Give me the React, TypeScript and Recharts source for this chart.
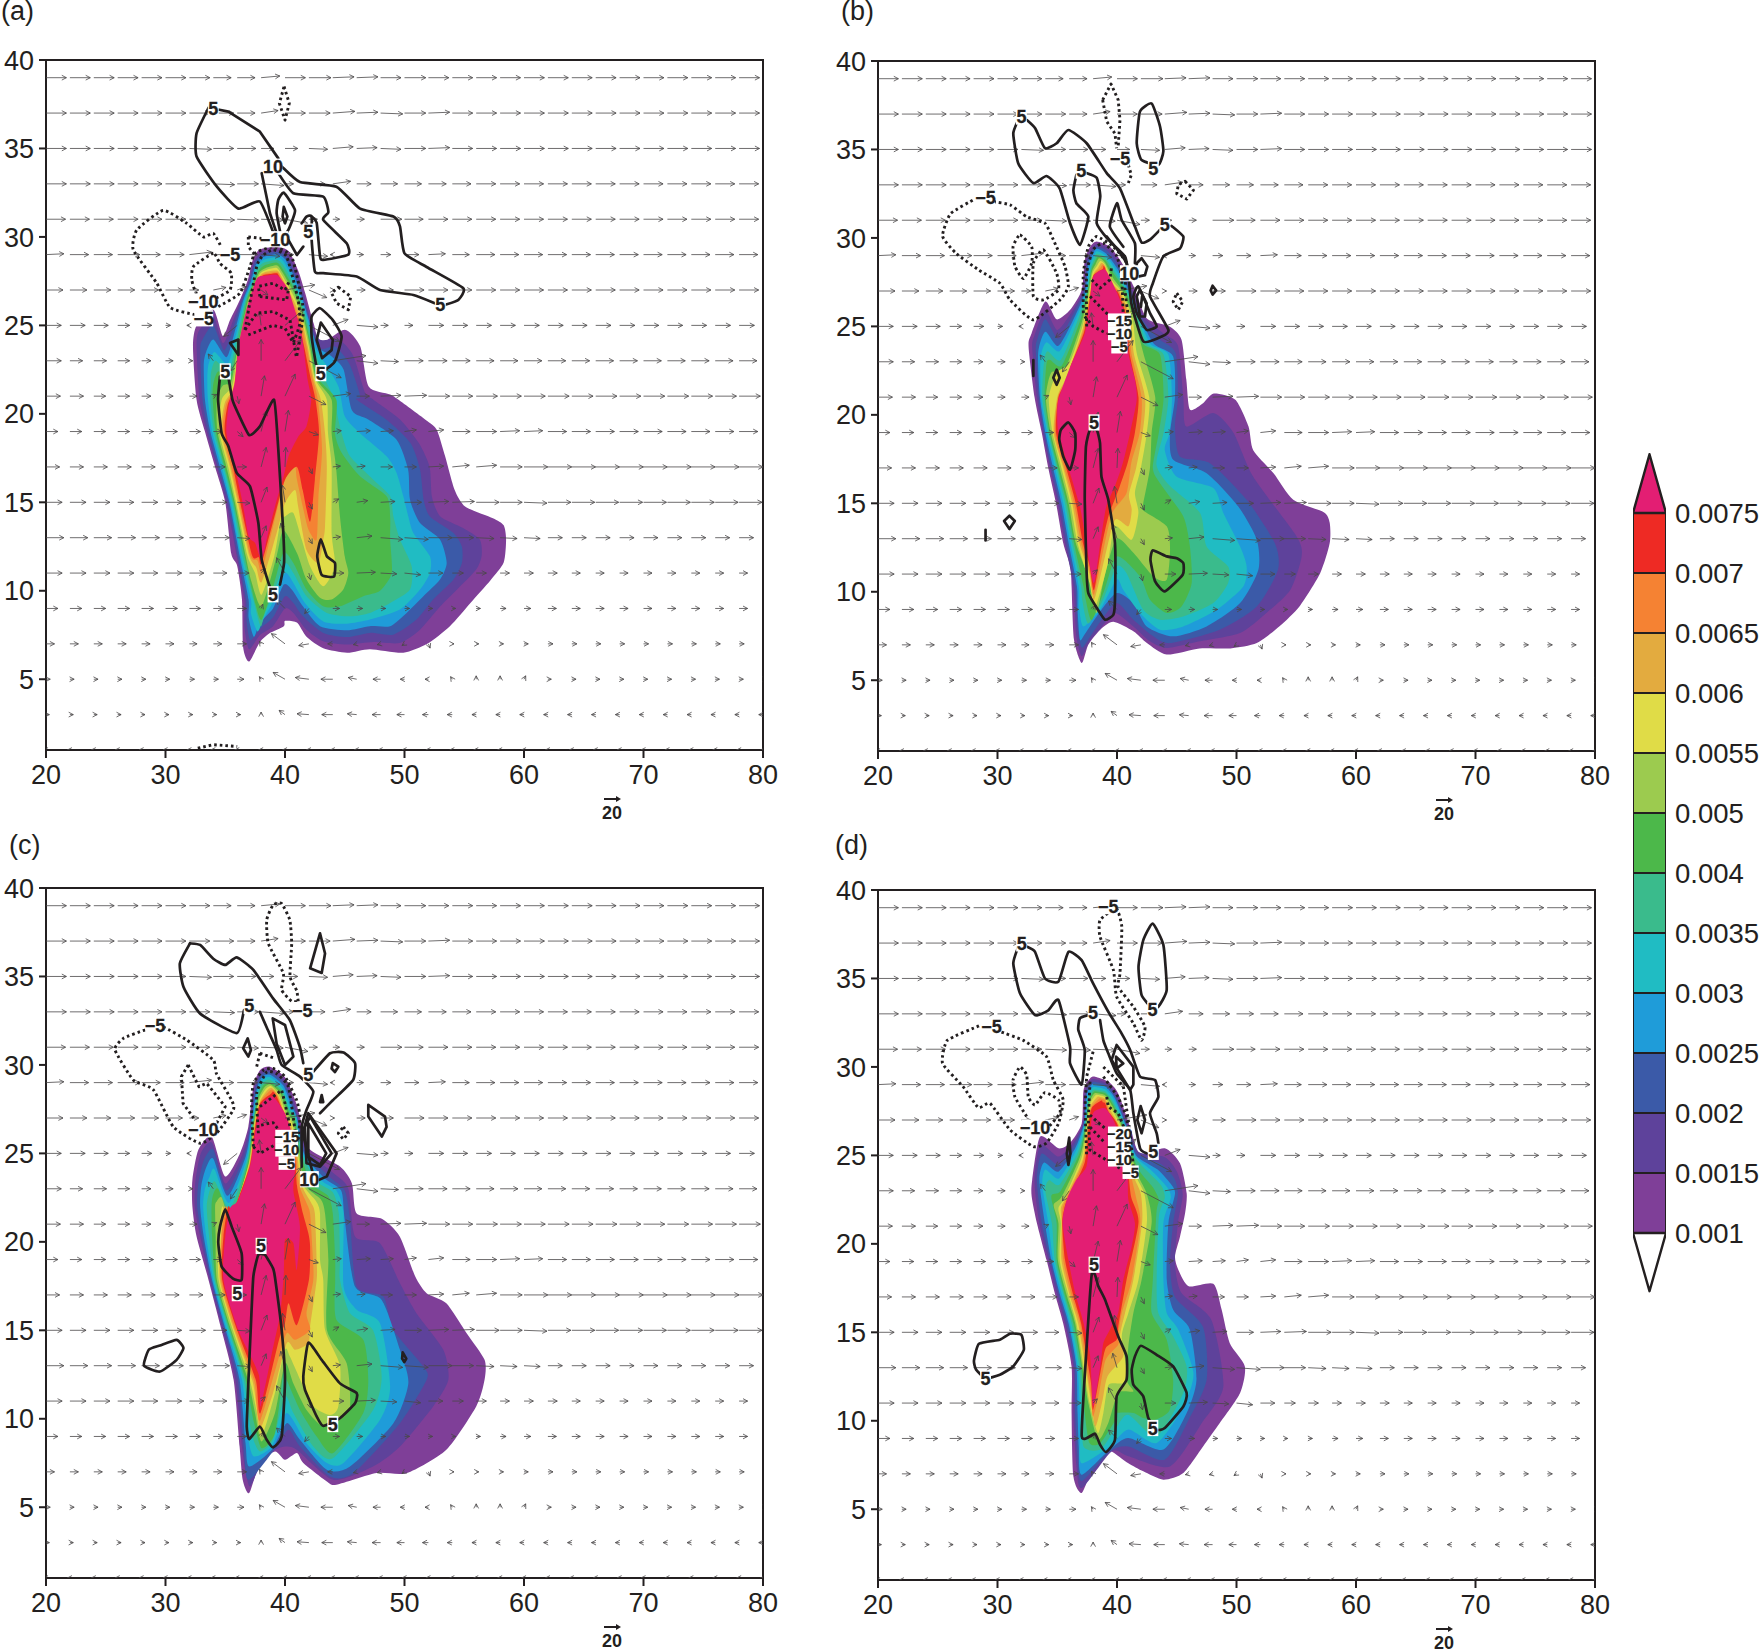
import React from "react";
import { ScatterChart, Scatter, XAxis, YAxis, ReferenceArea } from "recharts";

const INK = "#231f20";
const FONT = "'Liberation Sans', Arial, sans-serif";
const LABEL_FONT = "'Liberation Sans Narrow', 'Liberation Sans', sans-serif";

// shading levels, lowest first
const LEVEL_COLORS = ["#7f3f98", "#5e429b", "#3b5aa8", "#1f9cd9", "#20bcc3", "#3abb8c", "#4cb84a", "#9ccb4f", "#e0dc47", "#e3ab3f", "#f58233", "#ee2a24", "#e31e73"];
const LEVEL_LABELS = ["0.001", "0.0015", "0.002", "0.0025", "0.003", "0.0035", "0.004", "0.005", "0.0055", "0.006", "0.0065", "0.007", "0.0075"];

const X_TICKS = [20, 30, 40, 50, 60, 70, 80];
const Y_TICKS = [5, 10, 15, 20, 25, 30, 35, 40];

// wind grid
const WIND_LONS = [20, 22, 24, 26, 28, 30, 32, 34, 36, 38, 40, 42, 44, 46, 48, 50, 52, 54, 56, 58, 60, 62, 64, 66, 68, 70, 72, 74, 76, 78, 80];
const WIND_LATS = [39, 37, 35, 33, 31, 29, 27, 25, 23, 21, 19, 17, 15, 13, 11, 9, 7, 5, 3, 1];
const WIND_U = [
  [24,24,24,24,24,24,24,21,21,22,24,26,25,25,24,25,24,24,24,24,24,24,24,24,24,24,24,24,24,24,24],
  [24,24,24,24,24,24,24,24,21,20,24,25,26,25,26,25,25,24,24,24,24,24,24,24,24,24,24,24,24,24,24],
  [24,24,24,24,24,24,26,24,22,15,15,22,24,24,24,25,25,24,24,24,24,24,24,24,24,24,24,24,24,24,24],
  [24,24,24,24,24,24,24,25,25,27,10,19,21,17,20,20,21,22,23,23,23,23,23,23,23,23,23,23,23,23,23],
  [23,23,23,24,24,24,24,25,25,26,27,10,8,9,25,22,23,23,23,23,23,23,23,23,23,23,23,23,23,23,23],
  [21,22,22,26,22,22,26,24,24,22,10,22,-3,8,12,17,20,20,22,22,22,22,22,22,22,22,22,22,22,22,22],
  [20,20,20,20,20,20,11,15,11,8,35,21,2,10,15,23,23,23,23,23,23,23,23,23,23,23,23,23,23,23,23],
  [18,18,17,14,12,6,-3,0,-16,-2,22,36,18,25,9,10,18,18,18,18,18,18,18,18,18,18,18,18,18,18,18],
  [18,15,15,14,11,9,4,-6,-8,0,19,38,39,25,21,22,22,21,21,21,21,21,21,21,21,21,21,21,21,21,21],
  [17,16,14,14,11,9,9,4,2,4,12,20,21,15,24,26,25,24,25,25,25,25,25,25,25,25,25,25,25,25,25],
  [14,14,14,14,14,14,13,10,7,6,4,11,10,16,15,14,18,21,24,23,22,22,22,22,22,22,22,22,22,22,22],
  [16,16,16,16,16,16,16,14,11,6,1,4,9,10,14,14,18,20,24,26,28,28,28,28,28,28,28,28,28,28,28],
  [19,19,19,19,19,19,19,16,15,7,-3,4,7,13,17,20,24,26,27,26,27,27,27,27,27,27,27,27,27,27,27],
  [21,21,21,21,21,21,20,19,15,6,-5,4,9,18,26,28,28,25,21,20,19,17,17,17,17,17,17,17,17,17,17],
  [19,19,19,19,19,19,17,16,14,5,-10,2,13,22,19,19,17,13,12,11,11,11,10,10,10,10,10,10,10,10,10],
  [14,14,14,14,14,14,13,11,11,2,-10,-5,8,7,6,6,5,4,5,7,8,10,10,10,10,10,10,10,10,10,10],
  [10,10,10,10,10,10,9,10,11,-2,-16,-12,-6,-4,-4,-3,2,2,3,4,5,6,6,6,6,6,6,6,6,6,6],
  [5,5,5,5,5,5,6,6,8,-2,-14,-16,-14,-10,-9,-5,-4,-2,0,0,2,4,5,5,5,5,5,5,5,5,5],
  [4,4,4,4,4,4,4,4,4,0,-7,-14,-13,-11,-10,-9,-7,-6,-5,-5,-5,-5,-5,-5,-5,-5,-5,-5,-5,-5,-5],
  [-3,-3,-3,-3,-3,-3,-3,-3,-3,-3,-3,-3,-3,-3,-3,-3,-3,-3,-3,-3,-3,-3,-3,-3,-3,-3,-3,-3,-3,-3,-3],
];
const WIND_V = [
  [0,0,0,0,0,0,0,0,0,2,0,0,1,1,0,0,0,0,0,0,0,0,0,0,0,0,0,0,0,0,0],
  [0,0,0,0,0,0,0,0,0,3,0,0,2,1,-1,0,1,0,0,0,0,0,0,0,0,0,0,0,0,0,0],
  [0,0,0,0,0,0,-1,0,0,0,0,-1,2,1,-1,0,1,0,0,0,0,0,0,0,0,0,0,0,0,0,0],
  [0,0,0,0,0,0,0,-1,0,-2,0,0,3,0,0,0,0,0,0,0,0,0,0,0,0,0,0,0,0,0,0],
  [0,0,0,0,0,0,0,-1,-1,-1,-5,0,0,0,0,0,0,0,0,0,0,0,0,0,0,0,0,0,0,0,0],
  [1,0,0,0,0,0,3,0,0,-2,0,-2,0,0,0,0,1,0,0,0,0,0,0,0,0,0,0,0,0,0,0],
  [0,0,0,0,0,0,0,3,4,-6,6,-9,0,0,0,0,0,0,0,0,0,0,0,0,0,0,0,0,0,0,0],
  [0,0,0,0,0,0,0,0,-13,16,19,-19,7,-2,0,0,0,0,0,0,0,0,0,0,0,0,0,0,0,0,0],
  [0,0,0,0,0,0,0,8,-12,25,25,-20,6,-3,-1,0,0,0,0,0,0,0,0,0,0,0,0,0,0,0,0],
  [0,0,0,0,0,0,0,2,-9,24,26,-10,3,0,1,1,0,0,0,0,0,0,0,0,0,0,0,0,0,0,0],
  [0,0,0,0,0,0,0,0,-6,24,25,-4,1,1,1,2,2,0,0,1,1,0,0,0,0,0,0,0,0,0,0],
  [0,0,0,0,0,0,0,0,0,23,23,-8,1,1,0,0,1,2,2,0,0,0,0,0,0,0,0,0,0,0,0],
  [0,0,0,0,0,0,0,0,-1,18,20,-8,4,2,1,0,1,1,0,0,-1,0,0,0,0,0,0,0,0,0,0],
  [0,0,0,0,0,0,0,0,-1,14,17,-7,1,2,-2,-2,0,0,-1,-1,-1,0,0,0,0,0,0,0,0,0,0],
  [0,0,0,0,0,0,0,0,0,5,18,-8,0,1,-1,-2,0,0,0,0,0,0,0,0,0,0,0,0,0,0,0],
  [0,0,0,0,0,0,0,0,0,5,10,-6,0,0,0,0,0,0,0,0,0,0,0,0,0,0,0,0,0,0,0],
  [0,0,0,0,0,0,0,0,0,3,12,-2,0,-1,-1,-2,-5,0,0,0,0,0,0,0,0,0,0,0,0,0,0],
  [0,0,0,0,0,0,0,0,0,3,8,2,0,2,0,0,0,3,4,4,4,0,0,0,0,0,0,0,0,0,0],
  [0,0,0,0,0,0,0,0,0,3,5,1,0,1,0,0,0,0,0,0,0,0,0,0,0,0,0,0,0,0,0],
  [0,0,0,0,0,0,0,0,0,0,0,0,0,0,0,0,0,0,0,0,0,0,0,0,0,0,0,0,0,0,0],
];

// shaded contours of each panel as lon,lat pairs
const A_FILLS = [
  [39.3,29.45,40.3,29.2,41.1,28.1,41.7,26.8,42.4,25.1,43,24,45,24.75,46.3,23.8,47,21.55,48.8,21.1,49.5,20.8,51.9,19.6,52.7,19.1,53.4,17.6,54.2,15.7,55.1,14.75,57.4,14.1,58.3,13.7,58.5,12.9,58.3,11.6,57.2,10.6,55.5,9.3,53.8,8,51.9,7,49.9,6.5,47.1,6.7,45.2,6.5,43.2,6.75,41.8,7.4,41,8.2,40,8.3,39.9,8,38.7,7.6,37.9,7.1,37,6,36.5,6.8,36.4,9.5,36,11.4,35.5,12.1,35,15,34.15,17,33.3,19,32.6,20.8,32.3,23.8,32.6,25,34,25.9,34.8,24.4,35.4,25.3,36.2,26.4,36.9,27.6,37.3,28.7,37.9,29.3],
  [39.3,29.3,40.2,29.05,41,27.95,41.6,26.7,42.2,25.2,42.9,24.2,44.5,24.2,45.7,23.3,46.7,21.2,47.4,20.8,49.6,19.7,51.2,18.35,52.1,17,52.3,15.3,53,14.2,54.9,13.55,56.3,12.9,56.46,12,56,11.2,54.4,10.07,53,9.12,51.3,7.8,49.6,7.05,47.4,7.1,45.2,6.96,43.2,7.15,41.8,7.8,40.7,8.75,40,9,39,8,37.9,7.5,37,6.7,36.6,8,36.6,9.5,35.95,12,35.1,15,34.3,17,33.45,19,32.85,20.8,32.6,23.8,32.8,24.7,34,25.5,34.8,24,35.5,25,36.3,26.4,36.95,27.5,37.4,28.6,38,29.15],
  [39.3,29.15,40.1,28.9,40.9,27.8,41.5,26.6,42.1,25.2,42.9,23.7,44.2,23.8,45.4,22.8,46.3,21,46,20.8,48.5,19.67,50.5,18.35,51.3,16.85,51.6,15.15,52.13,14.2,54.1,13.27,54.8,12.5,54.8,11.57,54.1,10.63,52.4,9.5,51,8.37,49.07,7.52,47.1,7.62,45.2,7.39,43.2,7.62,41.5,8.56,40.7,9.31,40,9.69,39,8.5,38,7.9,37.1,7.2,36.8,8.2,36.75,9.5,36.05,12,35.25,15,34.4,17,33.6,19,33.1,20.8,32.9,23.6,33.1,24.2,34,25,34.9,23.6,35.6,24.7,36.4,26.4,37.05,27.5,37.45,28.5,38.1,29],
  [39.3,29,40,28.75,40.8,27.7,41.4,26.6,42,25.3,42.7,23.8,43.8,23.3,44.9,22.5,45.6,20.2,47,19.67,49.34,18.54,50.3,16.85,50.46,15.15,51.3,13.83,52.97,12.9,53.53,11.57,52.97,10.63,51.58,9.69,50.18,8.75,48.8,8,47.1,8,45.16,7.77,42.93,8,41.5,9.12,40.56,10.07,39.9,10.35,39,9,37.9,8.2,37.4,7.4,36.95,8.5,36.95,9.5,36.2,12,35.35,15,34.55,17,33.75,19,33.3,20.8,33.2,22.8,33.4,23.5,34,24.2,35.1,23.2,35.7,24.4,36.5,26.4,37.15,27.5,37.55,28.4,38.15,28.85],
  [39.3,28.85,39.9,28.6,40.7,27.6,41.3,26.6,41.9,25.3,42.5,23.8,43.4,22.8,44.5,21.5,45,19.86,46.28,18.9,48.5,17.6,49.34,16.66,49.9,15.34,50.32,14.2,50.74,13.27,52.13,11.95,52.13,11,51.3,10.07,49.62,8.94,47.1,8.37,45.16,8.14,43.2,8.27,41.67,9.31,40.7,10.44,40,11,39.1,9.5,38.2,8.4,37.7,7.7,37.15,8.7,37.15,9.5,36.3,12,35.45,15,34.7,17,33.9,19,33.55,20.8,33.5,22,33.6,22.8,34.1,23.5,35.2,22.8,35.8,24.2,36.6,26.4,37.2,27.4,37.6,28.3,38.2,28.7],
  [39.3,28.7,39.8,28.45,40.6,27.5,41.2,26.6,41.8,25.3,42.4,23.8,43.1,22.3,44,21,44.74,18.9,45.44,17.6,47.4,16.28,48.8,15.34,49.07,14.2,49.62,12.9,50.6,11.38,50.46,10.07,48.8,9.31,47.1,8.75,45.44,8.56,43.5,8.75,41.8,9.69,40.7,11,40,11.55,39.1,10,38.3,8.7,37.95,8,37.35,9.5,36.45,12,35.6,15,34.85,17,34.05,19,33.75,20.8,33.8,21.5,33.8,22.3,34.2,23,35.3,22.4,35.9,24,36.7,26.4,37.3,27.4,37.7,28.2,38.25,28.55],
  [39.3,28.55,39.7,28.3,40.5,27.4,41.1,26.6,41.7,25.3,42.2,23.8,42.8,22,44.3,20.8,44.18,18.9,44.74,17.8,46.28,16.47,48.5,15.34,48.8,14.2,48.8,12.9,48.93,11,47.95,10,46.55,9.69,44.6,9.12,43.2,9.12,41.8,10.07,40.7,11.57,39.86,12.14,39,10.2,38.05,8.37,37.55,9.2,36.6,12,35.7,15,34.95,17,34.2,19,33.95,20.8,34,21.7,34.4,22.4,35.4,22.1,36,23.8,36.8,26.4,37.35,27.4,37.8,28.1,38.3,28.4],
  [39.3,28.4,39.65,28.15,40.4,27.3,41,26.5,41.6,25.3,42.1,23.8,42.6,22,43.9,20.8,43.9,18.9,44.27,17,44.6,14.2,45,11.95,45.3,11,44.88,10.07,43.9,9.5,42.93,9.6,41.8,10.63,41,12.14,39.86,13.42,39.3,11.95,38.05,9.12,37.2,10.5,36.7,12,35.8,15,35.1,17,34.35,19,34.3,20.8,34.8,21.6,35.5,21.8,36,23.6,36.9,26.4,37.4,27.3,37.85,28,38.4,28.25],
  [39.3,28.25,39.6,28,40.3,27.2,40.9,26.4,41.5,25.3,42,23.8,42.5,22,43.5,20.8,43.6,18.9,43.9,17,43.9,13.27,44.18,11.38,43.2,10.25,42.1,11.38,41.4,12.9,40.7,14.4,40,14.2,39.64,14,39.1,11.95,38.05,9.78,37.5,11,36.85,12,35.9,15,35.25,17,34.5,19,34.7,20.8,35.6,21.6,36.1,23.6,37,26.4,37.5,27.3,37.95,27.95,38.5,28.15],
  [39.3,28.1,39.55,27.95,40.2,27.1,40.8,26.3,41.4,25.3,41.9,23.8,42.4,22,43,20.8,43.35,18.9,43.5,17,43.35,13.65,43.2,12.9,42.8,11.57,41.8,12.3,41.1,14.77,40.84,15.7,40,14.96,39.3,13.27,38.05,10.5,37.6,11.3,37,12,36.05,15,35.4,17,34.65,19,34.95,20.6,35.7,21.5,36.1,23.6,37.05,26.4,37.55,27.3,38,27.9,38.55,28.05],
  [39.3,28,39.5,27.9,40.15,27.05,40.7,26.2,41.25,25.3,41.8,23.8,42.3,22,42.75,20.8,43.1,18,42.8,15.3,42.65,12.9,42.1,13.27,41.8,13.83,41,16.28,40.84,17,40,16.28,39,13.64,38.05,11.1,37.7,11.7,37.1,12,36.15,15,35.5,17,34.8,19,35.05,20.5,35.75,21.5,36.1,23.7,37.1,26.4,37.6,27.3,38.05,27.85,38.6,27.95],
  [39.3,27.95,39.45,27.85,40.1,27,40.6,26.1,41.1,25.3,41.6,23.8,42.15,22,42.55,20.8,42.85,18.9,42.5,16.28,42.1,13.9,41.48,15.7,41,17,40,16.28,39.2,14.4,38.05,11.57,37.8,11.9,37.25,12,36.25,15,35.65,17,34.95,19,35.2,20.5,35.8,21.5,36.1,23.7,37.15,26.3,37.6,27.2,38.1,27.8,38.7,27.9],
  [39.3,27.85,39.8,27.5,40.3,27,40.9,25.7,41.4,24.5,41.9,21.9,42.2,20.8,41.8,19.3,41.1,18.7,40.3,17.6,39.9,16.5,39.3,15.1,38.6,13.3,38.05,11.76,37.5,12.7,36.95,13.1,36.4,15.15,35.8,17,35.1,18.9,35.3,20.5,35.8,21.8,36.1,23.8,36.7,25.7,37.6,27.6,38.3,27.8],
];
const B_FILLS = [
  [38.3,29.8,39.4,29.5,40.4,28.6,41.4,27.25,42.5,25.45,44.4,25,45.4,24.25,45.8,22,46.1,20.3,47.2,20.66,48.1,21.2,49.9,20.85,51,19.35,51.4,18,53.1,16.7,54.75,15.2,57.3,14.5,57.8,13.9,57.8,12.75,57,11.05,55.3,9.2,53.6,8.05,51.7,7.1,49.5,6.8,46.9,6.8,44.15,6.45,42.5,7.1,41.4,7.75,39.7,8.3,38.6,7.85,37.6,7,37.05,5.97,36.4,7.3,36.2,10.3,36.1,11.4,35.5,12.75,34.9,15,34.25,17,33.7,19,33.1,21,32.6,23.85,32.85,24.6,34,26.4,34.95,25.4,36.1,25.95,37.05,27.05,37.3,28.75,37.75,29.5],
  [38.3,29.65,39.3,29.4,40.3,28.5,41.2,27.2,42.3,25.5,43.9,24.6,45.1,23.9,45.55,21,45.8,19.34,48.06,20.1,49.73,19,51.4,16.5,55.03,13.13,55.45,12,54.5,10.1,52.5,8.8,50.3,7.67,46.95,7.2,44.16,6.82,42.76,7.2,41.37,8.04,39.83,8.8,38.7,8,37.7,7.2,37.05,6.35,36.6,7.5,36.35,10.3,35.65,12.75,35.05,15,34.4,17,33.8,19,33.3,21,32.9,23.8,33.1,24.5,34,25.9,35,24.8,36.2,25.8,37.15,27,37.4,28.7,37.85,29.4],
  [38.3,29.5,39.2,29.25,40.2,28.35,41.1,27.1,42.1,25.4,43.5,24.3,44.9,23.5,45.1,21,44.85,19.34,45.27,17.65,47.78,17.27,50.85,15.2,53.2,12.75,53.47,11.25,51.7,9.17,48.6,7.86,44.44,7.1,43.04,7.48,41.37,8.42,39.97,9.36,38.6,8.3,37.6,7.3,37.05,6.85,36.7,8,36.5,10.3,35.8,12.75,35.2,15,34.5,17,33.9,19,33.45,21,33.2,23.7,33.35,24.3,34,25.4,35.1,24.3,36.35,25.7,37.25,27,37.5,28.6,37.9,29.25],
  [38.3,29.4,39.1,29.1,40.1,28.2,41,27,42,25.4,43.1,24,44.7,23.3,44.85,21,44.44,18.97,44.7,17.46,47.5,16.7,50.15,14.82,51.7,12.94,51.83,11.25,50.3,9.36,47.5,8.04,44.7,7.48,42.48,8.04,41.37,9.36,39.97,9.93,38.5,8.8,37.3,7.6,36.9,7.3,36.7,9,36.65,10.3,35.95,12.75,35.35,15,34.65,17,34,19,33.55,21,33.4,23.5,34,24.7,35.1,23.9,36.5,25.6,37.35,27,37.6,28.5,38,29.1],
  [38.3,29.25,39.05,29,40,28.1,40.9,27,41.9,25.4,42.8,24,44.3,23.4,44.6,21,44.4,19,44,18,45,16.5,48.06,15.86,48.9,14.45,50.3,12.56,50.85,11.43,50.57,10.3,48.34,8.98,45.55,8.04,43.6,7.86,41.92,8.8,40.53,10.1,39.97,10.68,38.6,9,37.2,8.04,36.85,9,36.8,10.3,36.1,12.75,35.5,15,34.8,17,34.15,19,33.65,21,33.6,23.2,34.1,24.1,35.2,23.6,36.6,25.5,37.45,27,37.7,28.4,38.05,28.95],
  [38.3,29.1,39,28.9,39.9,28,40.8,27,41.8,25.4,42.5,24,43.9,23.4,44.3,21,43.9,19,43.3,17.2,44.4,16,46.95,14.45,47.5,12.56,49.3,11.43,49.3,10.5,48.06,9.36,45.55,8.6,43.6,8.42,42.2,8.98,40.8,11.05,39.97,11.43,38.8,9.5,37.6,8.2,37.1,9.5,37,10.3,36.25,12.75,35.65,15,34.95,17,34.25,19,33.75,21,33.9,23,34.2,23.6,35.3,23.1,36.75,25.4,37.5,27,37.8,28.3,38.1,28.8],
  [38.4,28.95,39,28.75,39.8,27.9,40.7,27,41.6,25.4,42.2,24,43.6,23.4,43.9,21,43.5,19,43,17,43.6,16.14,45.55,14.26,46.1,12.56,46.25,10.5,45.4,9.17,44.16,8.8,42.76,9.55,41.92,10.87,40,12,38.9,10,37.88,8.4,37.4,9.5,37.2,10.3,36.4,12.75,35.8,15,35.05,17,34.35,19,33.95,21,34.1,22.9,34.4,23.1,35.4,22.8,36.9,25.3,37.55,27,37.85,28.2,38.15,28.65],
  [38.5,28.85,39,28.6,39.7,27.7,40.55,26.9,41.45,25.4,42.2,23.5,43.2,21,42.9,19,42.76,17,42.2,15,42.2,14.6,44.16,13.7,44.44,12.38,44.16,10.68,43.04,10.87,41.37,12.2,39.97,13,39,11,38.3,8.8,37.9,10.3,36.55,12.75,35.95,15,35.2,17,34.45,19,34.05,21,34.5,22.4,35.6,22.5,37,25.1,37.6,26.9,37.9,28.1,38.2,28.5],
  [38.6,28.7,39,28.5,39.6,27.6,40.45,26.9,41.3,25.4,41.65,23.5,42.7,21,42.5,19,42,17,41.5,15.6,41.79,14.45,41.23,12.94,39.83,13.7,39.2,11.5,38.16,9.1,37.7,10.5,36.7,12.75,36.1,15,35.35,17,34.6,19,34.3,21,35,22.4,36,22.9,37.1,25,37.65,26.8,37.95,28,38.3,28.4],
  [38.7,28.6,39,28.4,39.5,27.5,40.3,26.9,41.15,25.4,41.4,23.5,42.35,21,42.15,19,41.6,17,41,15.5,41.23,14.64,40.95,13.7,39.83,14.07,39,12,38.08,9.55,37.7,11,36.85,12.75,36.25,15,35.5,17,34.7,19,35,21,35.6,21.9,36.1,22.7,37.15,24.9,37.7,26.7,38,27.9,38.4,28.3],
  [38.8,28.5,39,28.35,39.4,27.5,40.2,26.9,41,25.4,41.2,23.5,42.06,21,41.9,19,41.2,17.3,40.8,15.58,39.6,14.45,38.9,12.5,38.08,9.85,37.7,11.2,37,12.75,36.4,15,35.6,17,34.8,19,35.05,21,35.7,21.9,36.1,22.7,37.2,24.8,37.7,26.7,38.05,27.9,38.6,28.3],
  [38.85,28.4,39,28.3,39.3,27.4,40.1,26.9,40.85,25.4,41.05,23.5,41.8,21,41.5,19,40.9,17.3,40.2,15.9,39.3,14.3,38.7,12.5,38.08,10.1,37.7,11.5,37.15,12.75,36.55,15,35.75,17,34.9,19,35.1,21,35.8,21.9,36.1,22.7,37.25,24.7,37.75,26.6,38,27.85,38.8,28.25],
  [39,28.2,40,26.9,40.7,25.55,40.95,23.5,41.5,22,41.65,20.85,41.1,19,40.5,17.3,39.85,16,39.1,14.8,38.6,12.75,38.05,10.5,37.3,13.3,36.9,14.8,35.9,17.1,35.1,19,35,19.9,35.1,20.85,36.1,22.75,37.3,24.6,37.75,26.5,38,27.8],
];
const C_FILLS = [
  [38.75,29.9,40,29.3,40.85,28,41.25,27.08,41.95,25.3,44.6,24.26,45.6,23.3,46,21.6,48.1,21.3,49.6,20.3,50.9,18.04,51.85,17.1,53.5,16.53,55.2,14.84,56.7,13.33,56.7,12.2,56,10.7,53.5,8.25,50.2,6.93,47.67,6.93,44.3,6.27,43.5,6.46,41.53,7.5,41,8.06,40,7.68,39.16,8.15,37.9,7.5,37,5.8,36.46,6.55,36.2,8.43,35.7,12.2,34.7,15,33.6,17.85,32.6,20.3,32.25,22,32.25,23.5,32.75,25.2,33.86,25.95,34.98,23.7,36.23,25,36.93,26.5,37.35,28.77,37.9,29.7],
  [38.75,29.75,39.95,29.15,40.75,27.9,41.15,27,41.8,25.2,44.2,23.8,45.3,23,45.86,20.3,47.95,19.92,49.62,17.66,51,15.97,53.25,13.9,53.67,12.2,52.4,10.7,49.62,8.43,47.37,7.3,44.04,6.55,40.98,8.25,40,8.43,38.9,8.15,37.9,7.3,37.07,6.17,36.7,7,36.4,8.43,35.85,12.2,34.8,15,33.7,17.85,32.9,20.3,32.45,22,32.5,23.4,32.95,25,33.9,25.6,35,23.3,36.4,24.9,37,26.5,37.45,28.7,37.95,29.6],
  [38.75,29.6,39.9,29,40.65,27.8,41.05,27,41.7,25.1,43.7,23.7,45,22.9,45.44,21.24,46,17.47,48.23,16.9,49.07,15.03,51.58,12.95,51.85,12.2,49.62,9.75,45.72,6.93,43.77,6.74,41.25,8.43,40.28,9.38,38.9,8.06,36.93,6.55,36.55,8.43,36.05,12.2,34.95,15,33.8,17.85,33.05,20.3,32.65,22,32.75,23.3,33.2,24.6,34,25.2,35.1,22.9,36.55,24.8,37.1,26.5,37.5,28.6,38,29.45],
  [38.75,29.45,39.85,28.85,40.55,27.7,41,27,41.6,25,43.3,23.6,44.7,22.9,45,21.24,45.86,17.47,48.09,16.72,49.62,13.9,50.32,12,49.07,9.75,45.44,7.3,43.5,7.12,41.25,8.81,40.14,9.75,38.9,8.25,37,7.3,36.7,8.6,36.2,12.2,35.05,15,33.9,17.85,33.2,20.3,32.9,22,33,23.2,33.4,24.2,34,24.7,35.2,22.6,36.7,24.8,37.15,26.5,37.6,28.5,38.05,29.3],
  [38.75,29.3,39.8,28.7,40.45,27.6,40.95,27,41.5,25,43,23.5,44.3,22.9,44.9,21.6,44.9,17.47,46,16.16,47.95,15.4,48.8,11.82,47.95,9.94,44.9,7.5,43.5,7.5,41.8,8.62,40.14,10.32,38.9,8.43,37.4,7.87,36.9,9,36.4,12.2,35.15,15,34,17.85,33.4,20.3,33.15,22,33.3,23,33.7,23.7,34.1,24.1,35.3,22.2,36.8,24.7,37.2,26.5,37.65,28.4,38.1,29.15],
  [38.75,29.15,39.75,28.6,40.35,27.5,40.9,27,41.4,25,42.7,23.4,44,22.8,44.5,21.6,44.6,19,44.6,17.85,45.44,15.97,47.37,15,48.09,12.39,47.37,10.5,44,7.77,42.37,8.43,40.7,10.32,40,11.26,39,8.81,37.9,8.15,37.2,9.2,36.55,12.2,35.3,15,34.1,17.85,33.65,20.3,33.45,22,33.7,22.9,34.15,23.4,35.4,21.9,36.85,24.6,37.25,26.5,37.7,28.3,38.15,29],
  [38.75,29,39.7,28.5,40.3,27.4,40.8,26.9,41.3,25,42.2,23.3,43.6,22.6,44,21.6,44.2,19,44.2,17.85,44.3,15.6,46.55,14.46,46.97,12.2,46.55,10.32,44.04,8.06,42.65,9,41.25,10.5,40.14,12.2,39.86,12.58,39.16,9.19,38.05,8.34,37.4,9.8,36.7,12.2,35.4,15,34.2,17.85,33.9,20.3,33.85,22,34,22.7,34.4,23,35.5,21.5,36.9,24.5,37.3,26.5,37.75,28.2,38.2,28.85],
  [38.8,28.9,39.6,28.4,40.2,27.3,40.7,26.8,41.2,25,41.7,23.2,43,22.4,43.35,21.6,43.63,19,43.5,15.03,45.16,13.14,45.44,10.7,44.6,9.94,43.2,9.56,41.8,10.5,40.7,12,40,13.14,39.16,10.32,38.05,8.72,37.5,10.3,36.9,12.2,35.5,15,34.3,17.85,34.2,20.3,34.15,22,34.3,22.3,34.7,22.5,35.5,21.3,36.95,24.4,37.35,26.5,37.8,28.1,38.3,28.75],
  [38.85,28.8,39.5,28.3,40.1,27.2,40.6,26.7,41.1,25,41.55,23.2,42.6,22.3,42.93,21.6,42.93,19,43.2,17.85,43.35,15.03,44.6,13,44.46,10.7,43.77,10.22,42.37,10.7,41.53,11.82,40.42,13.5,40,13.9,39.16,11.45,38.05,9,37.6,10.5,37.05,12.2,35.65,15,34.45,17.85,34.45,20.3,34.75,22,35.45,21.2,36.98,24.4,37.4,26.5,37.85,28,38.4,28.65],
  [38.9,28.7,39.45,28.25,40.05,27.1,40.5,26.6,41,25,41.4,23.2,42.2,22.2,42.5,21.6,42.65,19,42.65,17.85,42.1,15.2,41.95,14.27,40.84,13.9,40.14,14.27,39,11.45,37.95,9.47,37.6,10.8,37.25,12.2,35.75,15,34.55,17.85,34.65,20.3,34.9,22,35.5,21.4,37,24.35,37.42,26.5,37.88,27.9,38.5,28.55],
  [38.95,28.6,39.4,28.2,40,27.05,40.4,26.5,40.9,25,41.2,23.2,41.8,22.2,42.1,21.6,42.3,19.5,42.37,17.85,41.8,15.97,42.1,15.03,40.84,14.46,40.14,14.84,39.5,13.5,37.95,9.94,37.6,11,37.4,12.2,35.85,15,34.65,17.85,34.7,20.3,35.05,22,35.6,21.6,37.03,24.3,37.45,26.4,37.9,27.85,38.6,28.45],
  [39,28.5,39.35,28.15,40,27.1,40.3,26.4,40.8,25,41,23.2,41.2,22.5,41.5,21.6,41.95,20.5,42.1,19.73,42,17.85,41,15.3,40.3,16.53,40,15.4,39.5,14.46,37.95,10.32,37.55,12.2,36,15,34.75,17.85,34.85,20.3,35.25,22,35.7,21.8,37.05,24.3,37.47,26.3,37.9,27.8,38.8,28.35],
  [39,28.2,40,27.27,40.56,26.1,40.84,24.25,40.7,22.9,41.25,20.86,40.98,18.4,40.7,19.92,40,20.1,39.9,18.2,39.6,15.97,38.9,13.7,37.95,10.7,37.8,12.5,36.1,15,34.85,17.85,35,20.3,35.4,21.9,36.1,22.37,37.07,24.25,37.5,26.14,37.9,27.6,38.3,28],
];
const D_FILLS = [
  [38.16,29.45,39.27,29.17,40.1,28.5,41.1,26.6,41.9,25.1,44,25.4,45.27,24.55,45.83,22.86,45.7,21.74,45.27,20.4,44.85,19.3,45.13,18.54,46,17.6,48.06,17.74,48.76,16.27,49.43,14.4,50.7,13.07,50.3,11.57,48.6,9.87,47.2,8.55,45.55,7.05,43.88,6.67,42.2,7.14,40.95,7.6,39.55,8.27,39,8.27,38,7.42,37.05,5.92,36.35,6.86,36.2,10.44,36.2,13.07,35.5,15.5,34.8,17.2,34.1,19.1,33.3,21.17,32.86,22.68,32.9,23.6,33.56,26.06,35.1,25.4,36.07,25.7,37.05,26.8,37.2,28.7,37.74,29.35],
  [38.2,29.3,39.2,29.05,40,28.4,41,26.6,41.8,25.2,44,24.9,45,24.1,45.5,22.8,45.1,21.17,44.85,18.9,45.4,17.22,47.9,15.7,48.9,11.94,47.1,9.87,44.44,7.42,40.95,8,39.55,8.27,37.05,6.2,36.6,7.5,36.35,10.44,36.35,13.07,35.65,15.5,34.95,17.2,34.25,19.1,33.5,21.17,33.1,23.6,33.6,25.6,35.1,24.93,36.2,25.6,37.15,26.8,37.3,28.6,37.8,29.25],
  [38.25,29.15,39.15,28.95,39.9,28.3,40.9,26.6,41.7,25.1,43.7,24.5,44.8,23.7,45.1,22.8,44.7,21.17,44.44,18.9,44.85,17,47.2,15.3,47.5,12.32,46,10.06,43.99,7.8,40.95,8.55,39.4,8.27,37.05,6.6,36.7,8,36.5,10.44,36.45,13.07,35.8,15.5,35.1,17.2,34.4,19.1,33.7,21.17,33.3,23.6,33.7,25.1,35.1,24.46,36.35,25.5,37.2,26.8,37.4,28.5,37.85,29.1],
  [38.3,29,39.1,28.85,39.85,28.2,40.8,26.6,41.6,25,43.4,24.2,44.6,23.3,44.85,22.8,44.3,21.17,44.16,18,44.7,16.27,46.1,15.15,46.65,12.32,45.83,10.44,43.88,8.37,40.95,9.03,39.4,8.37,37.05,6.95,36.8,8.5,36.7,10.44,36.6,13.07,35.95,15.5,35.2,17.2,34.5,19.1,33.97,21.17,33.5,23.6,33.9,24.6,35.1,24.08,36.5,25.4,37.25,26.8,37.45,28.4,37.9,29],
  [38.35,28.85,39.1,28.7,39.8,28.1,40.75,26.6,41.5,25,42.8,24.2,44.2,23.2,44.5,22.6,43.88,21.17,43.88,18,44.16,16.09,45.13,15.15,46.4,12.7,45.55,10.81,43.32,8.74,40.95,9.5,39.4,8.55,37.05,7.6,36.9,9,36.9,10.44,36.7,13.07,36.05,15.5,35.35,17.2,34.65,19.1,34.25,21.17,33.75,23.3,34,24.2,35.15,23.7,36.6,25.3,37.3,26.8,37.55,28.3,37.95,28.85],
  [38.4,28.7,39.05,28.6,39.7,28,40.65,26.6,41.4,25,42.4,24.2,43.7,23.3,44,22.6,43.5,21.5,43.32,18,43.46,16.09,44.7,14.77,45.83,13.07,45.55,11.57,43.32,9.12,40.95,10.34,40,9.68,38.6,8.37,37.2,8.55,37.1,10.44,36.85,13.07,36.2,15.5,35.5,17.2,34.8,19.1,34.55,21.17,34,23,34.3,23.6,35.2,23.35,36.75,25.2,37.35,26.8,37.6,28.2,38,28.7],
  [38.45,28.6,39.05,28.5,39.65,27.9,40.55,26.6,41.3,25,42,24,43,23.2,43.5,22.5,43.3,21.74,43,17.97,42.9,16.09,44.16,14.58,44.7,12.3,44.4,10.6,43.2,10.06,42.2,10.15,41.37,10.44,39.97,10.44,39.83,10,38.6,8.74,37.7,8.74,37.3,10.44,37,13.07,36.35,15.5,35.6,17.2,34.95,19.1,34.95,21.17,34.5,22.7,35.3,23,36.85,25.1,37.4,26.8,37.65,28.1,38.05,28.6],
  [38.5,28.5,39,28.4,39.6,27.8,40.45,26.6,41.2,25,41.8,23.8,42.5,22.8,42.9,21.2,42.06,17.97,41.37,16.09,40.95,14.2,40.8,12.32,41.37,11.66,40.1,11.57,39.27,9.87,38.4,8.93,37.6,11,37.1,13.07,36.5,15.5,35.75,17.2,35.05,19.1,35.1,21.17,34.7,22.2,35.4,22.7,36.95,25,37.45,26.8,37.7,28,38.1,28.5],
  [38.55,28.4,39,28.3,39.5,27.7,40.35,26.6,41.1,25,41.6,23.8,42.3,22.8,42.5,21.2,41.8,17.97,40.95,16.09,40.4,14.77,40.8,12.88,40.53,12.13,39.3,12.03,38.86,10.44,38.4,9.31,37.7,11,37.2,13.07,36.6,15.5,35.9,17.2,35.2,19.1,35.3,21.17,35.1,22,35.6,22.6,37.05,24.9,37.5,26.8,37.75,27.9,38.2,28.4],
  [38.6,28.3,39,28.2,39.4,27.6,40.25,26.6,41,25,41.4,23.8,42,22.8,42.1,21.2,41.37,17.97,40.67,16.09,40.25,14.77,40.53,13.64,39.2,12.5,38.8,11.19,38.2,9.68,37.8,11.2,37.35,13.07,36.75,15.5,36,17.2,35.35,19.1,35.37,21.17,35.3,22,35.7,22.6,37.15,24.8,37.55,26.8,37.8,27.8,38.35,28.3],
  [38.7,28.2,39,28.1,39.35,27.5,40.15,26.6,40.9,25,41.2,23.8,41.6,22.6,41.95,21.2,41.23,17.97,40.4,16.09,40.1,14.77,40.1,14.3,39.05,13.45,38.5,11.57,38,10.25,37.8,11.5,37.45,13.07,36.9,15.5,36.15,17.2,35.5,19.1,35.4,21.17,35.45,22,35.8,22.6,37.2,24.7,37.6,26.8,37.85,27.7,38.5,28.2],
  [38.8,28,39,27.95,39.3,27.45,40,26.8,40.8,25,41,23.7,41.2,22.6,41.8,21.2,40.8,17.97,40.1,15.3,39.97,14.58,39.05,14.1,38.6,12.7,38,10.62,37.85,12,37.6,13.07,37,15.5,36.3,17.2,35.65,19.1,35.42,21.17,35.6,22,35.9,22.6,37.3,24.6,37.65,26.8,37.9,27.7,38.7,28.1],
  [39,27.66,39.83,26.8,40.67,25.1,40.9,23.6,40.95,22.49,41.5,21.17,41.23,19.85,40.53,17.97,40.1,16.09,39.4,15.15,38.86,14.39,38.6,13.07,38,10.81,37.75,13.64,37.2,15.52,36.5,17.22,35.93,19.1,35.45,21.17,35.8,22.49,36.6,23.62,37.46,24.4,37.74,26.25,38,27.4],
];

// rain-rate contours: closed loops and open lines, solid and dotted
const A_LOOPS = [
  [42.23,25.5,42.93,25.97,44,25.3,44.74,24.37,44.18,22.96,43.35,22.5,42.65,22.67,42.23,24.37],
  [43,25.16,44,24.18,43.9,23.6,43.1,23.15,42.65,24.18],
  [35.4,24,36.1,24.2,36.1,23.33],
  [39.3,31.34,39.44,32.1,39.9,32.5,40.84,31.5,40.28,30.4,39.72,30],
  [39.9,31.7,40.2,31.15,40,30.77,39.8,31.15],
  [43,12.9,42.7,11.95,43.07,10.9,44.1,10.8,44.18,11.57,43.5,11.95],
];
const A_LINES = [
  [34.4,37.2,35.26,37.08,37.9,35.95,39.44,34.44],
  [39.7,34,41.25,33.1,44.3,32.84,46.28,31.6,49.07,31.15,49.62,30.6,50,29.07,51.85,28.3,54.92,27.1,54.5,26.44,53.4,26.16],
  [52.55,26.25,50.74,26.72,47.95,27,46,27.76,43.2,27.95,42.5,28.04,42.23,29.83,42.23,31.15,41.8,31.15,41.4,30.77],
  [33.6,37.3,32.6,35.86,32.6,34.54,34.3,32.84,36.1,31.6,37.9,32,39.16,30],
  [38.05,33.6,38.74,31.34,39.44,29.92],
  [39.44,33.6,40.7,32.47,43.2,32.28,43.63,31.4,43.2,30.96,45.16,29.64,45.3,29,43.2,28.7,42.93,28.9,42.65,30.8,42.23,31.15],
  [41.53,29.45,41,28.98,40.28,29.83],
  [34.56,22.1,34.4,20.8,34.7,18.9,35.26,18.17,35.96,16.66,37.07,15.9,37.77,13.83,38.05,11.76,38.75,10.16],
  [39.58,10.35,39.92,11.57,39.86,13.27,39.44,17.98,39.08,20.8,37.9,19.3,37,18.8,36,20.14,35.6,20.8,35.26,22.1],
];
const A_DOT_LOOPS = [
  [39.92,38.5,40.36,37.55,40,36.6,39.53,37.55],
  [44.46,27.16,45.5,26.63,45.3,25.88,44.32,26.25,43.9,26.82],
  [34,29.08,32.33,28.32,32.2,27.57,32.6,26.8,34,26.5,35.4,27,35.5,27.95,34.56,28.5],
];
const A_DOTS = [
  [32.47,25.6,30.4,26,29.26,27.4,27.3,29.27,27.6,30.4,29.8,31.5,31.77,30.77,33.17,30,34,30.2,34.7,29.4],
  [34.42,26.06,36.23,26.82,37.07,28.32,37.5,29.08,39,29.45,40.56,28.89,41.53,25.88,40.98,23.24],
  [36.65,24.75,37.63,28.32,38.2,28.98,39,29.27,40.14,28.89,41.1,26.44,41.25,25.12,40.7,24],
  [36.65,24.75,37.63,25.69,39,25.78,40.42,25.3,40.98,23.1],
  [36.93,24.46,39,25,40,24.84,40.7,24],
  [37.9,26.63,37.77,27.2,39,27.38,40,27,40.42,27.57],
  [37.9,26.63,40.14,26.44,40.28,27],
  [36.93,30,36.93,29.45,37.5,28.98],
  [36.93,30,38.05,29.92],
  [32.7,1.1,34,1.3,36,1.2],
];
const A_TAGS = [["5",34,37.27],["10",39,33.97],["5",41.95,30.3],["−10",39.16,29.87],["−5",35.4,29],["−10",33.17,26.35],["−5",33.2,25.4],["5",35,22.4],["5",43,22.3],["5",39,9.8],["5",53,26.16]];

const B_LOOPS = [
  [42.9,37.6,43.6,36.3,43.88,34.9,43.46,34.13,42.06,34.4,41.65,35.35,41.92,37.14],
  [42.06,28.85,42.54,28.38,42.34,27.9,41.65,27.8,41.65,28.57],
  [41.8,27.25,42.76,25.75,43.32,25,42.48,24.8,41.65,25.75,41.37,26.7],
  [41.92,27.06,42.48,26.3,42.34,25.56,41.92,25.56,41.65,26.7],
  [34.95,22.55,35.2,22.1,34.95,21.7,34.67,22.1],
  [48,27.3,48.3,27.03,48,26.8,47.84,27.03],
  [31,14.3,31.45,14,31,13.55,30.55,14],
  [35.93,19.57,36.5,18.97,36.5,18,36.07,16.9,35.5,17.65,35.17,18.6,35.3,19.15],
  [37.74,19.15,37.4,18.2,37.3,15.2,37.46,11.05,37.6,9.93,38.3,9.1,39,8.42,39.7,8.7,39.83,9.55,39.83,12.75,39.27,15.2,38.7,16.5,38.58,18.4,38.3,19.15],
  [43,12.34,44.16,12,45,11.9,45.55,11.62,45.5,10.96,44,10.02,43.18,10.6,42.8,11.8],
];
const B_LINES = [
  [32.44,36.67,33.15,36.2,33.97,35.07,34.95,35.35,35.93,36.1,37.46,35.35,39.14,33.66,40.25,32.8,41.5,30.64,42.06,29.74,42.76,29.9,43.6,30.46],
  [44.57,30.68,45.55,30.08,45.27,29.4,43.88,28.95,43,27.44,42.76,26.7,44.3,24.8,43.74,24.43,42.2,24.15,41.2,26.3,40.8,28.57,39.14,30.08],
  [31.74,36.67,31.32,35.9,31.74,34.2,33,33.1,34.1,33.5,35.2,32.8,36.07,30.83,36.9,29.6,37.6,31.2,36.6,31.96,36.35,32.7,36.6,33.56],
  [37.3,33.7,38.3,33.4,38.6,32.34,38.3,30.83,39.27,29.9,40.67,28.95,40.95,28],
  [40.53,29.5,39.4,30.64,40,31.96,40.4,31,41.5,29.7,41.5,28.57],
  [42.1,26.7,42,26.1],
  [33,23.1,33,22.2],
  [29,13.5,29,12.9],
];
const B_DOT_LOOPS = [
  [31.88,30.17,32.86,29.5,32.86,28.57,32.16,27.7,31.46,28.4,31.3,29.5],
  [33.84,29.33,34.95,28,35.1,27.06,33.84,26.5,33,26.7,33,28.57],
  [45.7,33.2,46.4,32.7,45.83,32.2,45,32.5,45.13,33],
  [45,26.88,45.5,26.4,45.13,25.94,44.7,26.4],
];
const B_DOTS = [
  [29.65,32.05,31.05,31.87,32.44,31.2,33.97,30.83,34.67,29.9,35.65,28.38,35.93,27.25,35.23,26.5,33,25.37,31.05,26.5,30.2,27.44,28.4,28.2,26.5,29.15,25.4,30.1,26.07,31.37,28.1,32.2],
  [37.18,25.75,37.18,28,37.6,29.5,38.3,30.08,39.7,29.5,40.8,28.57,40.67,27.06,40.95,25.56],
  [37.46,25,37.46,28,38,29.33,38.86,29.7,40,28.95,40.4,27.63,40.53,25.37],
  [37.74,26.7,39.4,25.56],
  [37.88,27.63,38.58,27.16,39.4,27.63,39.55,28.38],
  [37.3,25.56,38,25,39.14,24.6],
  [38.8,37.8,39.14,36.58,39.83,35.9,39.97,35.07],
  [38.8,37.8,39.5,38.7,40.1,37.8,40.25,36.67,40.1,35.16],
  [40.95,34.13,41.2,33.56,40.95,33.1],
];
const B_TAGS = [["5",32,36.86],["5",37,33.8],["−5",40.25,34.5],["5",43.04,33.9],["5",44,30.74],["10",41.03,28],["−15",40.2,25.35,15],["−10",40.2,24.6,15],["−5",40.2,23.85,15],["5",38.08,19.57],["−5",29,32.26]];

const C_LOOPS = [
  [42.93,37.44,43.35,36.3,43.07,35.2,42.1,35.46],
  [38.97,32.63,40,32.26,40.7,30.47,40,30,39.3,31.2],
  [36.88,31.5,37.15,30.84,36.93,30.47,36.5,30.94],
  [44,30.1,44.46,29.9,44.18,29.6,43.9,29.8],
  [43.07,28.3,43.2,27.9,42.93,27.9],
  [46.97,27.74,48.37,27.08,48.5,26.5,48.1,25.95,46.97,27.08],
  [41.95,27.27,44.32,25,43.5,23.7,42.5,23.4,41.48,26.13],
  [42.1,27.08,43.9,25,42.93,24.25,41.8,24.44,41.67,26.5],
  [41.95,26.7,43.45,25,42.93,24.35,41.95,24.8],
  [35,21.84,35.54,20.86,36.37,19.36,36.37,17.85,35.62,17.94,34.7,18.6,34.42,19.92,34.56,20.86],
  [37.77,19.26,37.35,18.04,37.13,15.03,36.93,12,36.8,9.56,37,8.85,37.9,9.56,38.47,8.81,39,8.38,39.72,9,40,12.2,39.72,15.03,39.16,18,39,18.5,38.33,19.26],
  [41.95,14.3,43.07,13.33,44.6,12,46,11.45,45.86,10.88,44.6,10.03,43.2,9.6,42.65,10.13,41.67,11.64,41.53,12.39],
  [28.2,13,28.6,13.9,29.54,14.14,30.93,14.46,31.5,14,30.93,13.33,29.54,12.67],
  [49.85,13.75,50.15,13.4,49.98,13.2,49.8,13.4],
];
const C_LINES = [
  [32.05,36.87,32.9,36.78,34,36,35,35.65,35.96,36.08,37.35,35.37,39,33.76,40.4,32.54,41.25,31,41.53,30.1],
  [37.9,33,38.5,32.07,39.3,30.85,39.72,30,41.25,29.34,42.37,28.5,41.8,27.45,41.4,26.5,41.4,24.25],
  [32.05,36.87,31.2,35.74,31.5,34.42,32.9,32.9,35.96,31.8,36.57,33.1],
  [42.37,29.62,43.77,30.66,44.9,30.7,45.86,30.1,45.7,29.15,44,28,42.93,27.27],
];
const C_DOT_LOOPS = [
  [29.8,32.13,31.8,31.4,34,30.28,34.27,29.5,35.54,28,35.68,27.46,34.28,26.14,32.9,25.57,30.66,26.5,28.98,28.6,27.3,29.15,25.77,30.85,26.47,31.5,28.28,31.97],
  [44.88,26.5,45.3,26.14,44.88,25.8,44.46,26.14],
];
const C_DOTS = [
  [41.1,33.6,40.98,34.2,40.42,35,40.56,36.87,40.4,38.2,39.7,39.13,39,39.04,38.47,38.2,38.6,36.87,39.86,35.18,39.72,34.24,40.56,33.6,41.25,33.6],
  [31.9,30,31.33,29.34,31.47,27.83,32.47,26.89],
  [31.9,30,32.8,28.77,33.45,28.96,35,27.64,34.28,26.7],
  [37.35,25.38,37.2,27.64,37.35,28.96,38.2,29.7,39,29.8,40,29.34,40.98,28,41.25,27.08,41.1,25.76],
  [37.77,26.14,37.63,28.4,38.47,29.6,39.3,29.5,40.28,28.77,40.84,26.3],
  [37.9,27.64,39,28.2,39.72,28.58,40,27.83,40.42,26.5],
  [38,26.6,39,26.74,39.58,26.23],
  [37.35,25.38,37.9,25,39.16,25.48],
  [37.9,30.66,39.16,30.37],
  [37.9,30.66,37.63,29.9],
];
const C_TAGS = [["−5",29.12,32.2],["5",37,33.33],["−5",41.45,33.1],["5",41.95,29.47],["−10",33.17,26.36],["−15",40.14,25.95,15],["−10",40.14,25.2,15],["−5",40.14,24.45,15],["10",42.04,23.54],["5",38,19.77],["5",36,17.1],["5",44,9.7]];

const D_LOOPS = [
  [42.98,38.1,43.88,36.9,44.16,34.35,43.46,33.4,42.98,33.3,42.06,34.06,41.8,35.66,42.2,37.17],
  [41.98,27.79,42.34,27,42.06,26.25,41.7,27],
  [36,26,36.1,25.1,35.93,24.46,35.8,25.1],
  [39.92,30.58,40.53,30.2,39.97,29.92],
  [39.97,31.24,41.37,30,41.37,29,41.1,28.7,39.55,30.4],
  [37.88,18.25,37.46,14.2,37.05,9.12,38.16,9.27,38.58,8.65,39.08,8.23,39.83,8.93,39.97,11.38,40.8,12.32,40.8,13.64,40.1,14.77,39,16.84,38.44,17.6,38.16,18.25],
  [42,14.24,43.32,13.73,44.7,13.07,45.83,11.57,45.55,10.81,44,9.59,43.32,9.5,42.62,10.15,42.2,11.38,41.37,12.04,41.23,12.88,41.5,13.64],
  [28.03,13.4,28.45,14.35,30.2,14.58,31.05,14.92,32,14.86,32.2,14,31.3,13.07,30.2,12.6,29,12.4,28.2,12.9],
];
const D_LINES = [
  [32.44,36.8,33.14,36.5,33.97,35,35.1,34.82,35.93,36.5,37.04,36.04,38,34.72,39.27,33.12,40.38,31.9,41.1,30.96,41.93,29.45,43.18,29.26,43.46,28.3,42.76,27.38,43.32,26.25,43.46,25.7],
  [42.48,25.12,41.93,25.4,41.37,27.38,41.1,28.7,39.97,29.64,39.27,30.77,38.86,31.5,38.58,32.65],
  [31.74,36.8,31.32,35.85,31.88,34.16,33.14,32.93,34.25,33.2,35.1,33.78,36.07,31.15,36.07,30.2,37.04,29,37.3,30.96,36.76,32.1,36.9,32.75,37.6,32.93],
];
const D_DOT_LOOPS = [
  [39.92,38.96,40.4,37.92,40.25,35.29,40.1,34.53,41.37,33.4,42.34,32.27,42.06,31.5,41.37,32.46,39.97,33.97,39.7,35.47,38.58,37.36,38.58,38.3],
];
const D_DOTS = [
  [28.45,32.32,25.8,31.5,25.4,30.2,27.1,28.9,28.4,27.7,29.37,27.94,31.05,26.44,33,25.5,34.1,25.7,35.1,26.8,35.5,28.13,34.67,29.26,34.1,30.58,32.16,31.5,30.2,32],
  [32.44,27.2,31.46,28.3,31.3,29.26,31.88,30,32.44,29.54,32.58,28.3,33.14,27.85,33.97,28.55,35.1,28.13,35.23,27.4,34.28,26.6],
  [38,30.86,37.46,29.45,37.32,27.75,37.46,24.93],
  [38.86,30,40.53,28.9,41.1,26.25,41.37,24.36],
  [37.74,29.17,37.6,27,37.74,25.3,40.25,24.27],
  [38.86,29.45,40.1,28.3,40.8,27.2,40.95,26.25],
  [39.14,28.3,39.27,27.75,40.1,27.38,40.67,26.44],
  [37.74,27.28,39.14,26.44],
  [37.74,26.6,39,25.7],
];
const D_TAGS = [["−5",39.27,39.09],["5",32.02,36.98],["5",38,33.06],["5",42.98,33.25],["−5",29.5,32.3],["−10",33.14,26.57],["5",43.04,25.2],["−20",40.2,26.25,15],["−15",40.2,25.5,15],["−10",40.2,24.75,15],["−5",41.14,24.05,15],["5",38.08,18.82],["5",43,9.59],["5",29,12.37]];

const PANELS = [
  { name: "(a)", left: 0, top: 0, titleX: 1, titleY: -7, fills: A_FILLS, loops: A_LOOPS, lines: A_LINES, dotLoops: A_DOT_LOOPS, dots: A_DOTS, tags: A_TAGS },
  { name: "(b)", left: 832, top: 1, titleX: 841, titleY: -7, fills: B_FILLS, loops: B_LOOPS, lines: B_LINES, dotLoops: B_DOT_LOOPS, dots: B_DOTS, tags: B_TAGS },
  { name: "(c)", left: 0, top: 828, titleX: 9, titleY: 827, fills: C_FILLS, loops: C_LOOPS, lines: C_LINES, dotLoops: C_DOT_LOOPS, dots: C_DOTS, tags: C_TAGS },
  { name: "(d)", left: 832, top: 830, titleX: 835, titleY: 827, fills: D_FILLS, loops: D_LOOPS, lines: D_LINES, dotLoops: D_DOT_LOOPS, dots: D_DOTS, tags: D_TAGS },
];

const toPoints = (flat: number[]) => {
  const pts = [];
  for (let i = 0; i < flat.length; i += 2) pts.push({ x: flat[i], y: flat[i + 1] });
  return pts;
};

const windPoints = WIND_LATS.flatMap((lat, r) =>
  WIND_LONS.map((lon, c) => ({ x: lon, y: lat, u: WIND_U[r][c], v: WIND_V[r][c] })).filter((p) => !(p.x === 80 && p.u > 6))
);

const noDot = () => <g />;

// soft spline through the scaled points, contours are not polygons in the source
const splinePath = (pts: any[], closed: boolean, t: number) => {
  const n = pts.length;
  const at = (i: number) => (closed ? pts[(i + n) % n] : pts[Math.max(0, Math.min(n - 1, i))]);
  let d = `M${pts[0].x},${pts[0].y}`;
  const last = closed ? n : n - 1;
  for (let i = 0; i < last; i++) {
    const p0 = at(i - 1);
    const p1 = at(i);
    const p2 = at(i + 1);
    const p3 = at(i + 2);
    const c1x = p1.x + ((p2.x - p0.x) * t) / 6;
    const c1y = p1.y + ((p2.y - p0.y) * t) / 6;
    const c2x = p2.x - ((p3.x - p1.x) * t) / 6;
    const c2y = p2.y - ((p3.y - p1.y) * t) / 6;
    d += ` C${c1x},${c1y} ${c2x},${c2y} ${p2.x},${p2.y}`;
  }
  return d + (closed ? " Z" : "");
};

// Scatter hands its scaled points to this, so every outline goes through the axes
const outline = (opts: any) => (props: any) => {
  const pts = props.points;
  const d = opts.straight || pts.length < 6
    ? pts.map((p: any, i: number) => `${i ? "L" : "M"}${p.x},${p.y}`).join(" ") + (opts.closed ? " Z" : "")
    : splinePath(pts, !!opts.closed, opts.tension ?? 0.7);
  return (
    <path
      d={d}
      fill={opts.fill || "none"}
      stroke={opts.stroke || "none"}
      strokeWidth={opts.width || 0}
      strokeDasharray={opts.dash}
      strokeLinejoin="round"
      strokeLinecap={opts.dash ? "butt" : "round"}
    />
  );
};

const PX_PER_MS = 17 / 20;

const WindArrow = (props: any) => {
  const { cx, cy, payload } = props;
  const dx = payload.u * PX_PER_MS;
  const dy = -payload.v * PX_PER_MS;
  const len = Math.hypot(dx, dy);
  if (len < 0.5) return <g />;
  const ex = cx + dx;
  const ey = cy + dy;
  const ux = dx / len;
  const uy = dy / len;
  const hl = 4.6;
  const hw = 2.4;
  const d =
    `M${cx},${cy} L${ex},${ey} ` +
    `M${ex - ux * hl - uy * hw},${ey - uy * hl + ux * hw} L${ex},${ey} L${ex - ux * hl + uy * hw},${ey - uy * hl - ux * hw}`;
  return <path d={d} fill="none" stroke="#4a4849" strokeWidth={0.8} />;
};

const ContourTag = (props: any) => {
  const { cx, cy, payload } = props;
  const size = payload.size || 18;
  const w = payload.text.length * (size * 0.44) + 3;
  const h = size * 0.9;
  return (
    <g>
      <rect x={cx - w / 2} y={cy - h / 2} width={w} height={h} fill="#fff" />
      <text x={cx} y={cy + size * 0.36} textAnchor="middle" fontFamily={LABEL_FONT} fontWeight="bold" fontSize={size} fill={INK} stroke={INK} strokeWidth={0.3}>
        {payload.text}
      </text>
    </g>
  );
};

const Panel = ({ panel }: any) => (
  <div style={{ position: "absolute", left: panel.left, top: panel.top, width: 800, height: 800 }}>
    <ScatterChart width={800} height={800} margin={{ top: 60, left: 0, right: 37, bottom: 0 }}>
      <XAxis
        type="number"
        dataKey="x"
        domain={[20, 80]}
        ticks={X_TICKS}
        allowDataOverflow
        height={50}
        interval={0}
        tickSize={8}
        tickMargin={7}
        stroke={INK}
        strokeWidth={2}
        tick={{ fill: INK, fontSize: 27, fontFamily: FONT }}
      />
      <YAxis
        type="number"
        dataKey="y"
        domain={[1, 40]}
        ticks={Y_TICKS}
        allowDataOverflow
        width={46}
        interval={0}
        tickSize={7}
        tickMargin={5}
        stroke={INK}
        strokeWidth={2}
        tick={{ fill: INK, fontSize: 27, fontFamily: FONT }}
      />
      {panel.fills.map((flat: number[], i: number) => (
        <Scatter key={`fill-${i}`} data={toPoints(flat)} shape={noDot} line={outline({ fill: LEVEL_COLORS[i], closed: true })} isAnimationActive={false} />
      ))}
      <Scatter data={windPoints} shape={WindArrow} isAnimationActive={false} />
      {panel.loops.map((flat: number[], i: number) => (
        <Scatter key={`loop-${i}`} data={toPoints(flat)} shape={noDot} line={outline({ stroke: INK, width: 2.7, closed: true, tension: 0.5 })} isAnimationActive={false} />
      ))}
      {panel.lines.map((flat: number[], i: number) => (
        <Scatter key={`line-${i}`} data={toPoints(flat)} shape={noDot} line={outline({ stroke: INK, width: 2.7, tension: 0.5 })} isAnimationActive={false} />
      ))}
      {panel.dotLoops.map((flat: number[], i: number) => (
        <Scatter key={`dloop-${i}`} data={toPoints(flat)} shape={noDot} line={outline({ stroke: INK, width: 2.9, dash: "2.6 3", closed: true, tension: 0.5 })} isAnimationActive={false} />
      ))}
      {panel.dots.map((flat: number[], i: number) => (
        <Scatter key={`dot-${i}`} data={toPoints(flat)} shape={noDot} line={outline({ stroke: INK, width: 2.9, dash: "2.6 3", tension: 0.5 })} isAnimationActive={false} />
      ))}
      <Scatter data={panel.tags.map((t: any[]) => ({ text: t[0], x: t[1], y: t[2], size: t[3] }))} shape={ContourTag} isAnimationActive={false} />
      <ReferenceArea x1={20} x2={80} y1={1} y2={40} fill="none" stroke={INK} strokeWidth={2} />
    </ScatterChart>
    <svg style={{ position: "absolute", left: 596, top: 790, overflow: "visible" }} width={34} height={34}>
      <path d="M8,9 L22,9" stroke={INK} strokeWidth={2} />
      <path d="M25,9 L20,6 L20,12 Z" fill={INK} />
      <text x={16} y={29} textAnchor="middle" fontFamily={LABEL_FONT} fontWeight="bold" fontSize={18} fill={INK}>20</text>
    </svg>
  </div>
);

const COLORBAR_CELLS = LEVEL_COLORS.slice(0, 12);

const Colorbar = () => (
  <div style={{ position: "absolute", left: 1620, top: 0 }}>
    <ScatterChart width={144} height={1293} margin={{ top: 453, left: 13, right: 0, bottom: 0 }}>
      <XAxis type="number" dataKey="x" domain={[0, 1]} hide allowDataOverflow height={0} />
      <YAxis
        type="number"
        dataKey="y"
        orientation="right"
        domain={[-1, 13]}
        ticks={[0, 1, 2, 3, 4, 5, 6, 7, 8, 9, 10, 11, 12]}
        interval={0}
        allowDataOverflow
        width={98}
        axisLine={false}
        tickLine={false}
        tickMargin={3}
        tickFormatter={(v: number) => LEVEL_LABELS[v]}
        tick={{ fill: INK, fontSize: 27.5, fontFamily: FONT, textAnchor: "start" }}
      />
      {COLORBAR_CELLS.map((c, i) => (
        <Scatter
          key={c}
          data={[{ x: 0, y: i }, { x: 1, y: i }, { x: 1, y: i + 1 }, { x: 0, y: i + 1 }]}
          shape={noDot}
          line={outline({ fill: c, stroke: INK, width: 2, closed: true, straight: true })}
          isAnimationActive={false}
        />
      ))}
      <Scatter data={[{ x: 0, y: 12 }, { x: 0.5, y: 12.98 }, { x: 1, y: 12 }]} shape={noDot} line={outline({ fill: LEVEL_COLORS[12], stroke: INK, width: 2.4, closed: true, straight: true })} isAnimationActive={false} />
      <Scatter data={[{ x: 0, y: 0 }, { x: 0.5, y: -0.97 }, { x: 1, y: 0 }]} shape={noDot} line={outline({ fill: "#fff", stroke: INK, width: 2.4, closed: true, straight: true })} isAnimationActive={false} />
    </ScatterChart>
  </div>
);

export default function App() {
  return (
    <div style={{ position: "absolute", left: 0, top: 0, width: 1764, height: 1650, background: "#fff", overflow: "hidden" }}>
      {PANELS.map((p) => (
        <Panel key={p.name} panel={p} />
      ))}
      {PANELS.map((p) => (
        <div key={`t-${p.name}`} style={{ position: "absolute", left: p.titleX, top: p.titleY, fontFamily: FONT, fontSize: 27, color: INK, lineHeight: "36px" }}>
          {p.name}
        </div>
      ))}
      <Colorbar />
    </div>
  );
}
